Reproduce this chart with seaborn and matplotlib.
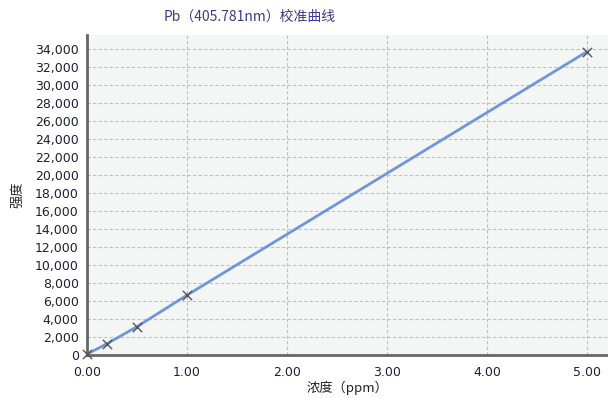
import numpy as np
import pandas as pd
import seaborn as sns
import matplotlib.pyplot as plt
from matplotlib.ticker import MultipleLocator, FuncFormatter

# Calibration data
conc = [0.0, 0.2, 0.5, 1.0, 5.0]
intensity = [100, 1250, 3150, 6650, 33700]
df = pd.DataFrame({'conc': conc, 'intensity': intensity})

sns.set_theme(style='white')
plt.rcParams['font.family'] = ['Noto Sans CJK SC', 'DejaVu Sans']

fig = plt.figure(figsize=(6.08, 3.98), dpi=100)
ax = fig.add_axes([87 / 608, 1 - 355 / 398, 521 / 608, 320 / 398])
ax.set_facecolor('#f4f5f5')

sns.lineplot(data=df, x='conc', y='intensity', ax=ax, color='#6f96d8', linewidth=2)
sns.scatterplot(data=df, x='conc', y='intensity', ax=ax, marker='x', s=45,
                color='#555555', linewidth=1, zorder=5, clip_on=False)

ax.set_xlim(0, 5.21)
ax.set_ylim(0, 35550)
ax.xaxis.set_major_locator(MultipleLocator(1))
ax.xaxis.set_minor_locator(MultipleLocator(0.25))
ax.yaxis.set_major_locator(MultipleLocator(2000))
ax.yaxis.set_minor_locator(MultipleLocator(400))
ax.xaxis.set_major_formatter(FuncFormatter(lambda v, p: f'{v:.2f}'))
ax.yaxis.set_major_formatter(FuncFormatter(lambda v, p: f'{int(v):,}'))

ax.grid(True, which='major', linestyle=(0, (3, 2)), color='#c0c0c0', linewidth=0.8)
for s in ['top', 'right']:
    ax.spines[s].set_visible(False)
for s in ['left', 'bottom']:
    ax.spines[s].set_color('#666666')
    ax.spines[s].set_linewidth(2)

ax.tick_params(axis='both', which='major', direction='out', length=4, width=1,
               color='#888888', labelsize=9, labelcolor='#1e1e38', pad=2)
ax.tick_params(axis='both', which='minor', direction='out', length=2, width=0.8,
               color='#aaaaaa')
ax.tick_params(axis='x', which='major', pad=4)
for lbl in ax.get_xticklabels() + ax.get_yticklabels():
    lbl.set_family('DejaVu Sans')

ax.set_xlabel('浓度（ppm）', fontsize=9.5, color='#222222', labelpad=1)
ax.set_ylabel('强度', fontsize=9.5, color='#222222', labelpad=8)

fig.text(250 / 608, 1 - 17 / 398, 'Pb（405.781nm）校准曲线', ha='center', va='center',
         fontsize=10, color='#3a3a90', weight='medium')

fig.savefig('out.png', dpi=100)
